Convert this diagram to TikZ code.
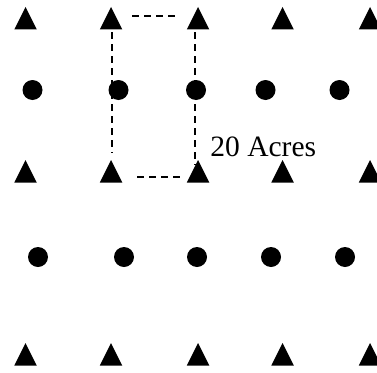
\documentclass[tikz,border=0pt]{standalone}
\usepackage{fontspec}
\setmainfont{Liberation Serif}
\usetikzlibrary{shapes.geometric}
\begin{document}
\begin{tikzpicture}[
    tree/.style={isosceles triangle, shape border rotate=90, isosceles triangle stretches,
      minimum width=0.45cm, minimum height=0.45cm, inner sep=0pt, outer sep=0pt, fill=black, anchor=apex},
    well/.style={circle, minimum size=0.40cm, inner sep=0pt, outer sep=0pt, fill=black},
    boundary/.style={line width=0.045cm, dash pattern=on 0.14cm off 0.10cm}]
            \useasboundingbox (0,0) rectangle (7.54,7.44);
            {\fontsize{16.8}{19}\selectfont

            % Marking trees, first row (by their tops)
            \node [tree] (t11) at (0.51,7.30) {};%
            \node [tree] (t12) at (2.22,7.30) {};%
            \node [tree] (t13) at (3.96,7.30) {};%
            \node [tree] (t14) at (5.65,7.30) {};%
            \node [tree] (t15) at (7.40,7.30) {};%

            % Marking wells, first row
            \node [well] (c11) at (0.65,5.64) {};%
            \node [well] (c12) at (2.37,5.64) {};%
            \node [well] (c13) at (3.92,5.64) {};%
            \node [well] (c14) at (5.31,5.64) {};%
            \node [well] (c15) at (6.79,5.64) {};%

            % Marking trees, second row
            \node [tree] (t21) at (0.51,4.24) {};%
            \node [tree] (t22) at (2.22,4.24) {};%
            \node [tree] (t23) at (3.96,4.24) {};%
            \node [tree] (t24) at (5.65,4.24) {};%
            \node [tree] (t25) at (7.40,4.24) {};%

            % Marking wells, second row
            \node [well] (c21) at (0.76,2.30) {};%
            \node [well] (c22) at (2.48,2.30) {};%
            \node [well] (c23) at (3.94,2.30) {};%
            \node [well] (c24) at (5.42,2.30) {};%
            \node [well] (c25) at (6.90,2.30) {};%

            % Marking trees, third row
            \node [tree] (t31) at (0.51,0.58) {};%
            \node [tree] (t32) at (2.22,0.58) {};%
            \node [tree] (t33) at (3.96,0.58) {};%
            \node [tree] (t34) at (5.65,0.58) {};%
            \node [tree] (t35) at (7.40,0.58) {};%

            % Drawing the dashed lot
            \draw [boundary] ([shift={(0.42,-0.18)}]t12.apex) -- ([shift={(-0.36,-0.18)}]t13.apex);%
            \draw [boundary] ([shift={(0.026,-0.50)}]t12.apex) -- ([shift={(0.026,0.14)}]t22.apex);%
            \draw [boundary] ([shift={(-0.06,-0.50)}]t13.apex) -- ([shift={(-0.06,-0.10)}]t23.apex);%
            \draw [boundary] ([shift={(0.52,-0.334)}]t22.apex) -- ([shift={(-0.26,-0.334)}]t23.apex);%

            % Marking the area
            \node [anchor=base west, inner sep=0pt] (area) at (4.20,4.32) {20 Acres};%
            }
\end{tikzpicture}
\end{document}
